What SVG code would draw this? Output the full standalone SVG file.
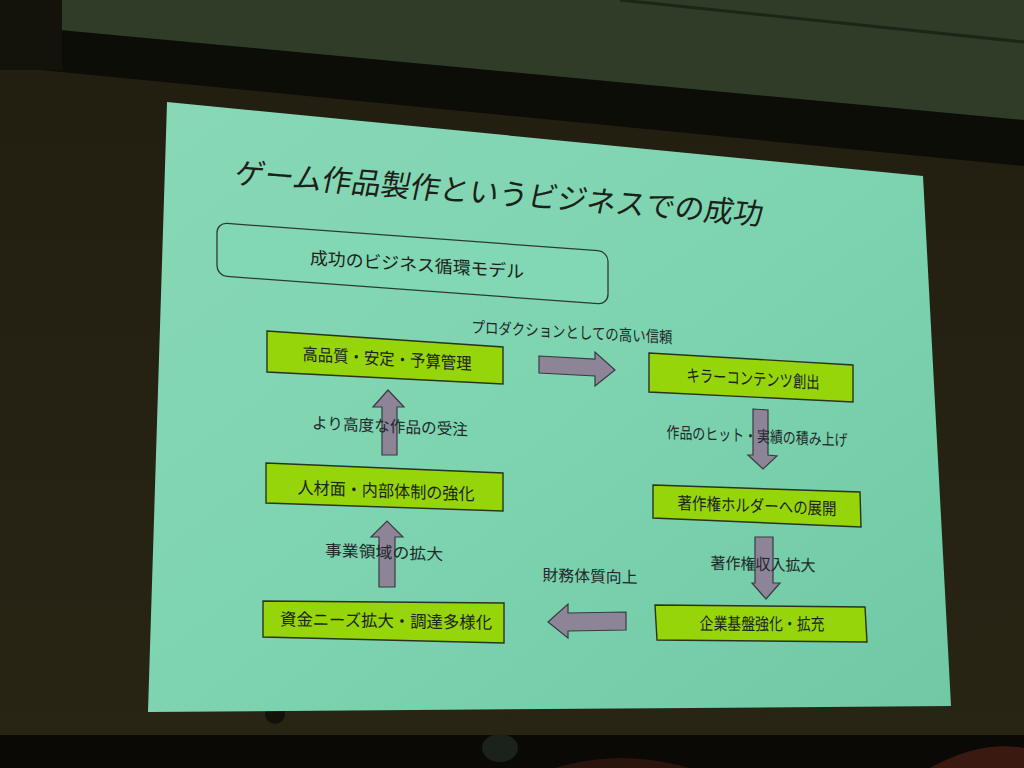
<svg xmlns="http://www.w3.org/2000/svg" width="1024" height="768" viewBox="0 0 1024 768">
  <defs>
    <linearGradient id="slideGrad" x1="0" y1="0" x2="1" y2="1">
      <stop offset="0" stop-color="#88d8b6"/>
      <stop offset="0.5" stop-color="#7ed4b0"/>
      <stop offset="1" stop-color="#70c8a4"/>
    </linearGradient>
    <linearGradient id="wallGrad" x1="0" y1="0" x2="0" y2="1">
      <stop offset="0" stop-color="#211e11"/>
      <stop offset="1" stop-color="#292515"/>
    </linearGradient>
    <style>
      .box { fill: #96d50a; stroke: #2a3320; stroke-width: 1.4; }
      .arrow { fill: #8e8498; stroke: #3a3a40; stroke-width: 1.2; stroke-linejoin: miter; }
      .t { font-family: "Noto Sans CJK JP", "Noto Sans", sans-serif; fill: #1c1f1a; text-anchor: middle; }
      .node { font-size: 17px; }
      .lbl { font-size: 16px; fill: #22282a; }
    </style>
  </defs>

  <!-- room background -->
  <rect x="0" y="0" width="1024" height="768" fill="url(#wallGrad)"/>
  <polygon points="60,0 1024,0 1024,122 60,34" fill="#2f3d28"/>
  <polygon points="0,18 60,30 1024,120 1024,166 0,66" fill="#0d0d07"/>
  <rect x="0" y="0" width="62" height="70" fill="#13130b"/>
  <line x1="620" y1="0" x2="1024" y2="42" stroke="#1c2617" stroke-width="3"/>
  <rect x="0" y="735" width="1024" height="33" fill="#0a0905"/>
  <circle cx="275" cy="714" r="10" fill="#121209"/>
  <ellipse cx="500" cy="748" rx="18" ry="14" fill="#1b221b"/>
  <path d="M930,768 Q980,740 1024,748 L1024,768 Z" fill="#3a1a10"/>
  <path d="M555,768 Q620,748 690,768 Z" fill="#2a140c"/>

  <!-- projected slide -->
  <polygon points="167,102 923,176 951,706 148,712" fill="url(#slideGrad)"/>

  <!-- title -->
  <g id="title">
    <text class="t" transform="translate(497,204) skewY(4.5) skewX(-12)" font-size="30" textLength="528" lengthAdjust="spacingAndGlyphs">ゲーム作品製作というビジネスでの成功</text>
  </g>

  <g id="model-header">
    <rect transform="translate(412,264) skewY(4.2)" x="-195" y="-27" width="391" height="53" rx="10" fill="#82d7b4" stroke="#2e3a33" stroke-width="1.3"/>
    <text class="t" transform="translate(417,271) skewY(3.8)" font-size="17.5" textLength="214" lengthAdjust="spacingAndGlyphs">成功のビジネス循環モデル</text>
  </g>

  <!-- connectors -->
  <g id="connectors">
    <polygon class="arrow" points="539,356 595,359 595,352 615,370 595,386 595,376 539,373"/>
    <polygon class="arrow" points="753,409 768,410 768,455 777,456 763,469 748,455 753,455"/>
    <polygon class="arrow" points="755,537 773,537 773,583 780,583 766,599 752,583 755,583"/>
    <polygon class="arrow" points="626,612 626,630 568,631 568,638 548,622 568,604 568,613"/>
    <polygon class="arrow" points="379,587 395,587 395,537 403,537 387,521 371,537 379,537"/>
    <polygon class="arrow" points="382,455 397,455 397,407 404,407 388,390 373,407 382,407"/>

    <text class="t lbl" transform="translate(572,338) skewY(3)" textLength="201" lengthAdjust="spacingAndGlyphs">プロダクションとしての高い信頼</text>
    <text class="t lbl" transform="translate(757,442) skewY(2.5)" textLength="181" lengthAdjust="spacingAndGlyphs">作品のヒット・実績の積み上げ</text>
    <text class="t lbl" transform="translate(763,570) skewY(1.5)" textLength="105" lengthAdjust="spacingAndGlyphs">著作権収入拡大</text>
    <text class="t lbl" transform="translate(590,582) skewY(1.5)" textLength="95" lengthAdjust="spacingAndGlyphs">財務体質向上</text>
    <text class="t lbl" transform="translate(384,558) skewY(2)" textLength="118" lengthAdjust="spacingAndGlyphs">事業領域の拡大</text>
    <text class="t lbl" transform="translate(390,432) skewY(2.5)" textLength="156" lengthAdjust="spacingAndGlyphs">より高度な作品の受注</text>
  </g>

  <!-- nodes -->
  <g id="n1">
    <polygon class="box" points="267,331 503,347 503,384 267,372"/>
    <text class="t node" transform="translate(387,365) skewY(3.4)" textLength="169" lengthAdjust="spacingAndGlyphs">高品質・安定・予算管理</text>
  </g>
  <g id="n2">
    <polygon class="box" points="649,353 853,365 853,402 649,392"/>
    <text class="t node" transform="translate(753,385) skewY(3.1)" textLength="133" lengthAdjust="spacingAndGlyphs">キラーコンテンツ創出</text>
  </g>
  <g id="n3">
    <polygon class="box" points="653,485 860,492 861,527 653,518"/>
    <text class="t node" transform="translate(757,512) skewY(2.2)" textLength="159" lengthAdjust="spacingAndGlyphs">著作権ホルダーへの展開</text>
  </g>
  <g id="n4">
    <polygon class="box" points="655,605 865,607 867,642 657,640"/>
    <text class="t node" transform="translate(762,630) skewY(0.3)" textLength="125" lengthAdjust="spacingAndGlyphs">企業基盤強化・拡充</text>
  </g>
  <g id="n5">
    <polygon class="box" points="263,601 504,603 504,643 263,637"/>
    <text class="t node" transform="translate(386,627) skewY(1)" textLength="212" lengthAdjust="spacingAndGlyphs">資金ニーズ拡大・調達多様化</text>
  </g>
  <g id="n6">
    <polygon class="box" points="266,463 503,473 503,511 266,503"/>
    <text class="t node" transform="translate(386,497) skewY(2.2)" textLength="177" lengthAdjust="spacingAndGlyphs">人材面・内部体制の強化</text>
  </g>
</svg>
